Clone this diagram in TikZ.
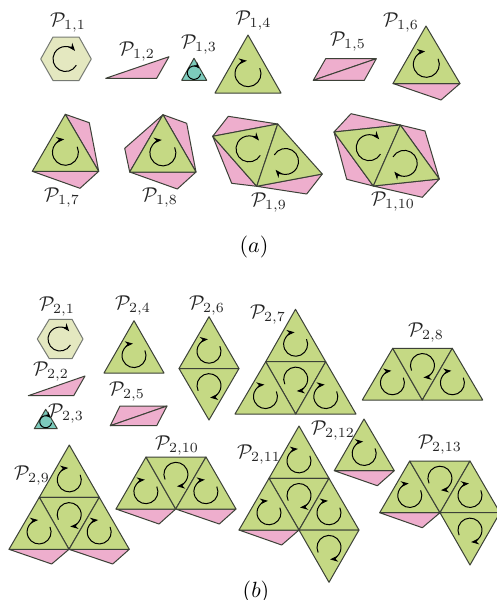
\documentclass[tikz,border=0pt]{standalone}
\usepackage{xcolor}
\usepackage{tikz}
\usetikzlibrary{arrows.meta,calc}
\definecolor{leaf}{RGB}{197,217,132}
\definecolor{cream}{RGB}{228,232,192}
\definecolor{rose}{RGB}{238,174,205}
\definecolor{teal2}{RGB}{124,203,188}
\definecolor{edge}{RGB}{60,65,55}
% one clockwise turn: centre, radius, start angle
\newcommand{\turn}[3]{\draw[turnline] (#1) ++(#3:#2) arc[start angle=#3,delta angle=-290,radius=#2];}
% green triangle with its turn in the centroid
\newcommand{\gtri}[5]{\draw[leafface] (#1) -- (#2) -- (#3) -- cycle;
  \coordinate (ga) at (#1); \coordinate (gb) at (#2); \coordinate (gc) at (#3);
  \coordinate (gm) at (barycentric cs:ga=1,gb=1,gc=1); \turn{gm}{#4}{#5}}
\newcommand{\ptri}[3]{\draw[roseface] (#1) -- (#2) -- (#3) -- cycle;}

\begin{document}
\begin{tikzpicture}[x=0.5pt,y=0.5pt, >={Stealth[length=4pt,width=3pt]},
  leafface/.style={draw=edge,fill=leaf,line width=0.5pt,line join=round},
  roseface/.style={draw=edge,fill=rose,line width=0.5pt,line join=round},
  creamface/.style={draw=edge!70,fill=cream,line width=0.5pt,line join=round},
  tealface/.style={draw=edge,fill=teal2,line width=0.5pt,line join=round},
  turnline/.style={draw=black,->,line width=0.5pt},
  smallturn/.style={draw=black,->,>={Stealth[length=3pt,width=2.4pt]},line width=0.5pt},
  lab/.style={inner sep=0pt,text=black!85},
  caplab/.style={inner sep=0pt,scale=1.1}]
\clip (0,-600) rectangle (497,0);
\fill[white] (0,-600) rectangle (497,0);

% part (a)
\draw[creamface] (40.7,-59) -- (53,-37) -- (79,-37) -- (91.3,-59) -- (79,-80.5) -- (53,-80.5) -- cycle;
\turn{65.5,-59}{12.5}{-30}
\node[lab] (p11) at (68,-23) {$\mathcal{P}_{1,1}$};

\ptri{105.7,-78.3}{169,-56.7}{156.7,-78.3}
\node[lab] (p12) at (137,-52) {$\mathcal{P}_{1,2}$};

\draw[tealface] (194,-58.3) -- (181.7,-80.3) -- (206.7,-80.3) -- cycle;
\draw[smallturn] (194,-72.7) ++(-10:6.7) arc[start angle=-10,delta angle=-310,radius=6.7];
\node[lab] (p13) at (199,-45) {$\mathcal{P}_{1,3}$};

\gtri{248,-35}{215,-93}{281,-93}{13}{25}
\node[lab] (p14) at (253.5,-21) {$\mathcal{P}_{1,4}$};

\ptri{313.3,-80.3}{325.7,-58.7}{376.3,-58.7}
\ptri{313.3,-80.3}{376.3,-58.7}{364.3,-80.3}
\node[lab] (p15) at (348,-42) {$\mathcal{P}_{1,5}$};

\ptri{393,-83.5}{441,-100}{460,-83.5}
\gtri{426,-26}{393,-83.5}{460,-83.5}{13}{25}
\node[lab] (p16) at (401,-23) {$\mathcal{P}_{1,6}$};

\ptri{65.3,-114.3}{89.3,-122.7}{98.7,-171.3}
\ptri{32.3,-171.3}{80,-188.3}{98.7,-171.3}
\gtri{65.3,-114.3}{32.3,-171.3}{98.7,-171.3}{13}{25}
\node[lab] (p17) at (62,-198) {$\mathcal{P}_{1,7}$};

\ptri{163,-114.7}{186.7,-123.3}{196,-172}
\ptri{129.7,-172}{177.3,-189}{196,-172}
\ptri{163,-114.7}{124.7,-148.3}{129.7,-172}
\gtri{163,-114.7}{129.7,-172}{196,-172}{13}{25}
\node[lab] (p18) at (160,-198) {$\mathcal{P}_{1,8}$};

\ptri{212.7,-136.3}{228.3,-116.3}{277.7,-124}
\ptri{212.7,-136.3}{231.7,-183.3}{256.7,-186.3}
\ptri{256.7,-186.3}{306.7,-194}{322.3,-174}
\gtri{212.7,-136.3}{277.7,-124}{256.7,-186.3}{13}{-30}
\gtri{277.7,-124}{322.3,-174}{256.7,-186.3}{13}{150}
\node[lab] (p19) at (269,-203) {$\mathcal{P}_{1,9}$};

\ptri{334,-132}{351,-113.7}{400.3,-125}
\ptri{334,-132}{346.7,-179.3}{373.3,-186}
\ptri{400.3,-125}{425,-131}{439.3,-179}
\ptri{373.3,-186}{422.3,-197.3}{439.3,-179}
\gtri{334,-132}{400.3,-125}{373.3,-186}{13}{-30}
\gtri{400.3,-125}{439.3,-179}{373.3,-186}{13}{150}
\node[lab] (p110) at (393,-202) {$\mathcal{P}_{1,10}$};

\node[caplab] (capa) at (254,-247) {$(a)$};

% part (b)
\draw[creamface] (37.3,-339) -- (49.3,-319.3) -- (72,-319.3) -- (83,-339) -- (72,-358.7) -- (49.3,-358.7) -- cycle;
\turn{60,-339}{12}{-30}
\node[lab] (p21) at (57,-307) {$\mathcal{P}_{2,1}$};

\ptri{28.3,-395.7}{85,-376}{73.7,-395.7}
\node[lab] (p22) at (51,-372) {$\mathcal{P}_{2,2}$};

\draw[tealface] (45.7,-409.3) -- (34.3,-428.7) -- (57.3,-428.7) -- cycle;
\draw[smallturn] (45.7,-421.7) ++(-10:6) arc[start angle=-10,delta angle=-310,radius=6];
\node[lab] (p23) at (66,-414) {$\mathcal{P}_{2,3}$};

\gtri{134,-320.7}{104,-373}{164,-373}{12}{25}
\node[lab] (p24) at (133,-306) {$\mathcal{P}_{2,4}$};

\ptri{110.3,-425.7}{120,-406}{167,-406}
\ptri{110.3,-425.7}{167,-406}{156.7,-425.7}
\node[lab] (p25) at (127,-392) {$\mathcal{P}_{2,5}$};

\gtri{209,-316.7}{179,-368.5}{239,-368.5}{12}{25}
\gtri{179,-368.5}{239,-368.5}{209,-420}{12}{205}
\node[lab] (p26) at (207,-306) {$\mathcal{P}_{2,6}$};

\gtri{295.5,-309.3}{265.7,-361.7}{325.7,-361.7}{12}{25}
\gtri{265.7,-361.7}{325.7,-361.7}{295.7,-414}{12}{205}
\gtri{265.7,-361.7}{235,-414}{295.7,-414}{12}{25}
\gtri{325.7,-361.7}{295.7,-414}{356,-414}{12}{25}
\node[lab] (p27) at (268,-315) {$\mathcal{P}_{2,7}$};

\gtri{392.7,-348.3}{362.3,-400}{422.3,-400}{12}{25}
\gtri{392.7,-348.3}{452.3,-348.3}{422.3,-400}{12}{205}
\gtri{452.3,-348.3}{422.3,-400}{482.7,-400}{12}{25}
\node[lab] (p28) at (426,-333) {$\mathcal{P}_{2,8}$};

\ptri{9,-549.3}{51.7,-564}{69,-549.3}
\ptri{69,-549.3}{112.7,-564}{129.3,-549.3}
\gtri{69.3,-445}{39.3,-497.3}{99.3,-497.3}{12}{25}
\gtri{39.3,-497.3}{99.3,-497.3}{69,-549.3}{12}{205}
\gtri{39.3,-497.3}{9,-549.3}{69,-549.3}{12}{25}
\gtri{99.3,-497.3}{69,-549.3}{129.3,-549.3}{12}{25}
\node[lab] (p29) at (32,-476) {$\mathcal{P}_{2,9}$};

\ptri{116,-509}{159,-524}{175.7,-509}
\ptri{175.7,-509}{219.3,-524}{236,-509}
\gtri{146,-457}{116,-509}{175.7,-509}{12}{25}
\gtri{146,-457}{206,-457}{175.7,-509}{12}{205}
\gtri{206,-457}{175.7,-509}{236,-509}{12}{25}
\node[lab] (p210) at (177,-446) {$\mathcal{P}_{2,10}$};

\ptri{239,-530}{281.7,-545}{299,-530}
\gtri{299,-426}{269,-478.3}{329,-478.3}{12}{25}
\gtri{269,-478.3}{329,-478.3}{299,-530}{12}{205}
\gtri{269,-478.3}{239,-530}{299,-530}{12}{25}
\gtri{329,-478.3}{299,-530}{359,-530}{12}{25}
\gtri{299,-530}{359,-530}{329,-582.3}{12}{205}
\node[lab] (p211) at (259,-455) {$\mathcal{P}_{2,11}$};

\ptri{334.3,-470.7}{377.3,-485.7}{394.3,-470.7}
\gtri{364,-419}{334.3,-470.7}{394.3,-470.7}{12}{25}
\node[lab] (p212) at (333,-431) {$\mathcal{P}_{2,12}$};

\ptri{379.7,-512.7}{422.3,-527.7}{440,-512.7}
\gtri{409.7,-461}{379.7,-512.7}{440,-512.7}{12}{25}
\gtri{409.7,-461}{470,-461}{440,-512.7}{12}{205}
\gtri{470,-461}{440,-512.7}{500,-512.7}{12}{25}
\gtri{440,-512.7}{500,-512.7}{470,-565}{12}{205}
\node[lab] (p213) at (440,-445) {$\mathcal{P}_{2,13}$};

\node[caplab] (capb) at (256,-592) {$(b)$};
\end{tikzpicture}
\end{document}
